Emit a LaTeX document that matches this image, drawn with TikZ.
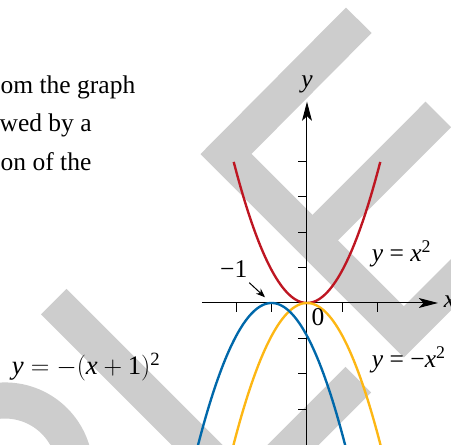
\documentclass[tikz,border=0pt]{standalone}
\usepackage{fontspec}
\setmainfont{Liberation Serif}
\usetikzlibrary{arrows.meta,calc}
\definecolor{parred}{RGB}{190,22,34}
\definecolor{pargold}{RGB}{253,183,20}
\definecolor{parblue}{RGB}{0,104,170}
\definecolor{wmgrey}{RGB}{205,205,205}
\newcommand{\mv}[1]{\textit{#1}}
\tikzset{
  band/.style={draw=wmgrey,line width=1.02cm,line join=miter},
  axis/.style={line width=0.8pt,-{Stealth[length=5.4mm,width=2.8mm,inset=1.3mm]}},
  tickmark/.style={line width=0.8pt},
  curve/.style={line width=1.9pt},
  pointer/.style={line width=0.8pt,-{Stealth[length=2.6mm,width=2mm]}},
  lbl/.style={font=\fontsize{20.5}{24}\selectfont,inner sep=0pt,anchor=base west}
}

\begin{document}
\begin{tikzpicture}
  \useasboundingbox (-8.672,-4.011) rectangle (4.068,8.559);
  \clip (-8.672,-4.011) rectangle (4.068,8.559);
  \draw[band] (1.463,7.986) -- (-2.288,4.209) -- (2.737,-0.816) -- (5.452,1.901);
  \draw[band] (3.709,5.325) -- (0.155,1.766);
  \draw[band] (-7.153,0.037) -- (-1.610,-5.505);
  \draw[band] (1.449,-2.167) -- (-1.610,-5.226);
  \draw[band] (-8.531,-4.729) circle (1.975);
  \node[lbl] (txta) at (-8.66,5.924) {om the graph};
  \node[lbl] (txtb) at (-8.69,4.839) {wed by a};
  \node[lbl] (txtc) at (-8.66,3.737) {on of the};
  \draw[axis] (-2.97,0) -- (3.70,0);
  \draw[axis] (0,-4.3) -- (0,5.686);
  \foreach \t in {-2,-1,1,2} \draw[tickmark] (\t,0) -- (\t,-0.25);
  \foreach \t in {-3,-2,-1,1,2,3,4} \draw[tickmark] (0,\t) -- (-0.25,\t);
  \draw[curve,parred] plot[domain=-2.07:2.07,samples=80,smooth] (\x,{0.93*(\x)^2});
  \draw[curve,pargold] plot[domain=-2.15:2.15,samples=80,smooth] (\x,{-0.93*(\x)^2});
  \draw[curve,parblue] plot[domain=-3.15:1.15,samples=80,smooth] (\x,{-0.93*(\x+1)^2});
  \node[lbl,anchor=base] (ylab) at (0,6.1) {\mv{y}};
  \node[lbl] (xlab) at (3.86,-0.12) {\mv{x}};
  \node[lbl,anchor=base] (zero) at (0.311,-0.65) {0};
  \node[lbl] (sqlab) at (1.828,1.167) {\mv{y} = \mv{x}\textsuperscript{2}};
  \node[lbl] (negsqlab) at (1.828,-1.836) {\mv{y} = −\mv{x}\textsuperscript{2}};
  \node[lbl,font=\fontsize{21.5}{24}\selectfont] (shiftlab) at (-8.342,-2.03)
    {$\mv{y} = -(\mv{x} + \mbox{1})$\textsuperscript{2}};
  \node[lbl] (mone) at (-2.458,0.706) {−1};
  \coordinate (ptail) at (-1.63,0.573);
  \coordinate (phead) at (-1.186,0.161);
  \draw[pointer] (ptail) -- (phead);
\end{tikzpicture}
\end{document}
